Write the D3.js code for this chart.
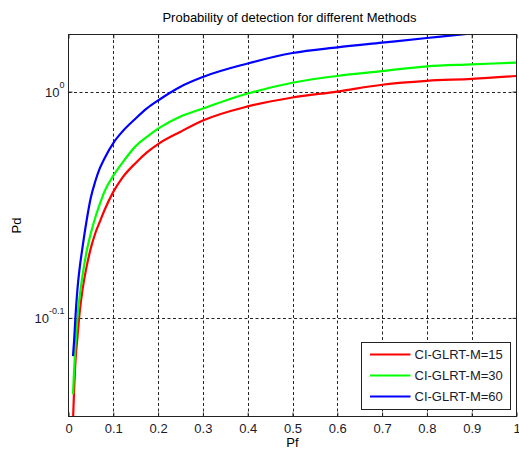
<!DOCTYPE html>
<html>
<head>
<meta charset="utf-8">
<script src="https://cdn.jsdelivr.net/npm/d3@7"></script>
<style>
  html, body { margin: 0; padding: 0; background: #ffffff; }
  svg { display: block; font-family: "Liberation Sans", Arial, sans-serif; }
</style>
</head>
<body>
<svg id="chart" width="519" height="453"></svg>
<script>
// ---- data ----
const pf    = [0.01, 0.0125, 0.015, 0.02, 0.025, 0.03, 0.04, 0.05, 0.06, 0.07, 0.08, 0.1, 0.12, 0.15, 0.175, 0.2, 0.25, 0.3, 0.4, 0.5, 0.6, 0.7, 0.8, 0.9, 1.0];
const pdM15 = [0.715, 0.738, 0.757, 0.779, 0.799, 0.814, 0.836, 0.853, 0.866, 0.876, 0.886, 0.903, 0.916, 0.930, 0.940, 0.948, 0.960, 0.971, 0.985, 0.994, 1.000, 1.007, 1.011, 1.013, 1.016];
const pdM30 = [0.735, 0.753, 0.769, 0.795, 0.812, 0.826, 0.849, 0.866, 0.880, 0.892, 0.903, 0.918, 0.930, 0.946, 0.955, 0.963, 0.975, 0.983, 0.998, 1.009, 1.016, 1.021, 1.026, 1.028, 1.030];
const pdM60 = [0.764, 0.776, 0.792, 0.818, 0.836, 0.850, 0.876, 0.898, 0.913, 0.925, 0.934, 0.949, 0.960, 0.973, 0.983, 0.991, 1.005, 1.015, 1.029, 1.040, 1.046, 1.051, 1.056, 1.061, 1.066];
const seriesNames = ["CI-GLRT-M=15", "CI-GLRT-M=30", "CI-GLRT-M=60"];
const seriesColors = ["#ff0000", "#00ff00", "#0000ff"];
const xTicks = [0, 0.1, 0.2, 0.3, 0.4, 0.5, 0.6, 0.7, 0.8, 0.9, 1];
const yTickExps = ["-0.1", "0"];
const yDomain = [0.7185, 1.0598];

const series = [pdM15, pdM30, pdM60].map((vals, i) => ({
  name: seriesNames[i], color: seriesColors[i],
  points: pf.map((p, j) => ({x: p, y: vals[j]}))
}));

// ---- layout ----
const L = 68.5, R = 516.5, T = 34.5, B = 416.5;
const svg = d3.select("#chart");
const x = d3.scaleLinear().domain([0, 1]).range([L, R]);
const y = d3.scaleLog().domain(yDomain).range([B, T]);

// grid
const grid = svg.append("g").attr("stroke", "#000").attr("stroke-width", 1)
  .attr("stroke-dasharray", "3,2.5").attr("opacity", 0.85);
xTicks.slice(1, -1).forEach(t => {
  const px = Math.round(x(t)) + 0.5;
  grid.append("line").attr("x1", px).attr("x2", px).attr("y1", T).attr("y2", B);
});
yTickExps.forEach(e => {
  const py = Math.round(y(Math.pow(10, +e))) + 0.5;
  grid.append("line").attr("x1", L).attr("x2", R).attr("y1", py).attr("y2", py);
});

// clip
svg.append("clipPath").attr("id", "clip").append("rect")
  .attr("x", L).attr("y", T).attr("width", R - L).attr("height", B - T);

// curves
const line = d3.line().x(d => x(d.x)).y(d => y(d.y)).curve(d3.curveMonotoneX);
svg.append("g").attr("clip-path", "url(#clip)")
  .selectAll("path").data(series).join("path")
  .attr("d", d => line(d.points))
  .attr("fill", "none")
  .attr("stroke", d => d.color)
  .attr("stroke-width", 2.2)
  .attr("stroke-linejoin", "round");

// axes box
svg.append("rect").attr("x", L).attr("y", T).attr("width", R - L).attr("height", B - T)
  .attr("fill", "none").attr("stroke", "#222").attr("stroke-width", 1);

// x axis
const xAxis = d3.axisBottom(x).tickValues(xTicks).tickSize(-4).tickPadding(7)
  .tickFormat(d3.format("~g"));
const gx = svg.append("g").attr("transform", `translate(0,${B})`).call(xAxis);
gx.select(".domain").remove();
gx.selectAll(".tick line").attr("stroke", "#222");
gx.selectAll(".tick text").attr("font-size", 13).attr("fill", "#1a1a2e")
  .attr("font-family", "Liberation Sans, Arial, sans-serif");
// top ticks
const gxt = svg.append("g").attr("transform", `translate(0,${T})`)
  .call(d3.axisTop(x).tickValues(xTicks).tickSize(-4).tickFormat(""));
gxt.select(".domain").remove();
gxt.selectAll(".tick line").attr("stroke", "#222");

// y axis with superscript labels
const yVals = yTickExps.map(e => Math.pow(10, +e));
const yAxis = d3.axisLeft(y).tickValues(yVals).tickSize(-4).tickFormat("");
const gy = svg.append("g").attr("transform", `translate(${L},0)`).call(yAxis);
gy.select(".domain").remove();
gy.selectAll(".tick line").attr("stroke", "#222");
const gyr = svg.append("g").attr("transform", `translate(${R},0)`)
  .call(d3.axisRight(y).tickValues(yVals).tickSize(-4).tickFormat(""));
gyr.select(".domain").remove();
gyr.selectAll(".tick line").attr("stroke", "#222");

yTickExps.forEach(e => {
  const py = y(Math.pow(10, +e));
  const t = svg.append("text").attr("x", L - 4).attr("y", py + 5)
    .attr("text-anchor", "end").attr("fill", "#1a1a2e")
    .attr("font-size", 13);
  t.append("tspan").text("10");
  t.append("tspan").attr("dy", -9).attr("font-size", 9).text(e);
});

// title and labels
svg.append("text").attr("x", (L + R) / 2 - 3).attr("y", 22).attr("text-anchor", "middle")
  .attr("font-size", 13).attr("fill", "#000")
  .text("Probability of detection for different Methods");
svg.append("text").attr("x", (L + R) / 2).attr("y", 447).attr("text-anchor", "middle")
  .attr("font-size", 13).attr("fill", "#000").text("Pf");
svg.append("text").attr("transform", `translate(21,${(T + B) / 2}) rotate(-90)`)
  .attr("text-anchor", "middle").attr("font-size", 13).attr("fill", "#000").text("Pd");

// legend
const lg = svg.append("g");
const lx = 361.5, ly = 342.5, lw = 149, lh = 67;
lg.append("rect").attr("x", lx).attr("y", ly).attr("width", lw).attr("height", lh)
  .attr("fill", "#fff").attr("stroke", "#222").attr("stroke-width", 1);
series.forEach((s, i) => {
  const yy = ly + 12 + i * 21;
  lg.append("line").attr("x1", lx + 8.5).attr("x2", lx + 49).attr("y1", yy).attr("y2", yy)
    .attr("stroke", s.color).attr("stroke-width", 2.2);
  lg.append("text").attr("x", lx + 53).attr("y", yy + 4.5).attr("font-size", 13)
    .attr("fill", "#1a1a2e").text(s.name);
});
</script>
</body>
</html>
